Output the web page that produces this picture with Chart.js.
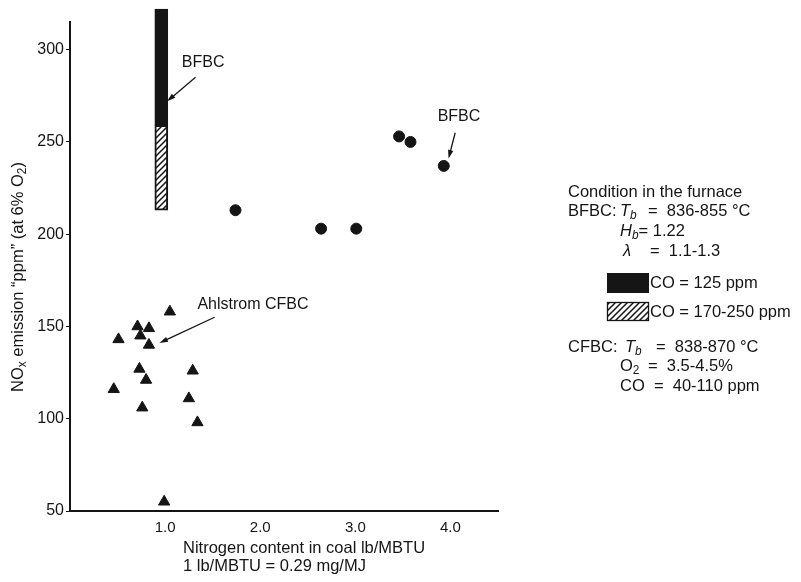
<!DOCTYPE html>
<html>
<head>
<meta charset="utf-8">
<script src="https://cdn.jsdelivr.net/npm/chart.js@4"></script>
<style>
  html, body { margin: 0; padding: 0; background: #fff; }
  #wrap { width: 801px; height: 582px; }
</style>
</head>
<body>
<div id="wrap"><canvas id="chart" width="801" height="582"></canvas></div>
<script>
// BFBC measurements (circles): N content lb/MBTU vs NOx ppm
const bfbcN = [1.74, 2.64, 3.01, 3.46, 3.58, 3.93];
const bfbcNox = [213, 203, 203, 253, 250, 237];

// Ahlstrom CFBC measurements (triangles)
const cfbcN = [1.05, 0.71, 0.83, 0.51, 0.74, 0.83, 0.73, 1.29, 0.80, 0.46, 1.25, 0.76, 1.34, 0.99];
const cfbcNox = [158, 150, 149, 143, 145, 140, 127, 126, 121, 116, 111, 106, 98, 55];

// BFBC range bar: black part CO = 125 ppm, hatched part CO = 170-250 ppm
const barN = 0.96;
const barBlack = [259, 322];
const barHatched = [213, 259];

const xTicks = [1, 2, 3, 4];
const yTicks = [50, 100, 150, 200, 250, 300];

const FONT = '"Liberation Sans", Arial, sans-serif';
const INK = '#151515';

const canvas = document.getElementById('chart');
const ctx = canvas.getContext('2d');

// diagonal hatch used for the CO 170-250 ppm bar
function makeHatch() {
  const c = document.createElement('canvas');
  c.width = 6;
  c.height = 6;
  const g = c.getContext('2d');
  g.fillStyle = '#fff';
  g.fillRect(0, 0, 6, 6);
  g.strokeStyle = INK;
  g.lineWidth = 1.5;
  g.beginPath();
  g.moveTo(-1, 7); g.lineTo(7, -1);
  g.moveTo(-4, 4); g.lineTo(4, -4);
  g.moveTo(2, 10); g.lineTo(10, 2);
  g.stroke();
  return ctx.createPattern(c, 'repeat');
}
const hatch = makeHatch();

// annotations in data coordinates
const notes = [
  { text: 'BFBC', x: 1.40, y: 293, align: 'center', from: [1.32, 285], to: [1.02, 272] },
  { text: 'BFBC', x: 4.09, y: 264, align: 'center', from: [4.05, 255], to: [3.98, 241] },
  { text: 'Ahlstrom CFBC', x: 1.34, y: 162, align: 'left', from: [1.52, 155], to: [0.94, 141] },
];

function arrow(c, x1, y1, x2, y2) {
  const a = Math.atan2(y2 - y1, x2 - x1);
  c.beginPath();
  c.moveTo(x1, y1);
  c.lineTo(x2 - 5 * Math.cos(a), y2 - 5 * Math.sin(a));
  c.stroke();
  c.beginPath();
  c.moveTo(x2, y2);
  c.lineTo(x2 - 9 * Math.cos(a - 0.3), y2 - 9 * Math.sin(a - 0.3));
  c.lineTo(x2 - 9 * Math.cos(a + 0.3), y2 - 9 * Math.sin(a + 0.3));
  c.closePath();
  c.fill();
}

// draws a run of text pieces; piece = [text, italic, sub]
function runText(c, pieces, x, y, size) {
  let cx = x;
  pieces.forEach(([t, italic, sub]) => {
    const s = sub ? size * 0.72 : size;
    c.font = (italic ? 'italic ' : '') + s + 'px ' + FONT;
    c.fillText(t, cx, sub ? y + size * 0.3 : y);
    cx += c.measureText(t).width;
  });
  return cx;
}

function runWidth(c, pieces, size) {
  let w = 0;
  pieces.forEach(([t, italic, sub]) => {
    const s = sub ? size * 0.72 : size;
    c.font = (italic ? 'italic ' : '') + s + 'px ' + FONT;
    w += c.measureText(t).width;
  });
  return w;
}

const decorPlugin = {
  id: 'decor',
  afterDraw(chart) {
    const c = chart.ctx;
    const xs = chart.scales.x;
    const ys = chart.scales.y;
    c.save();
    c.fillStyle = INK;
    c.strokeStyle = INK;
    c.lineWidth = 1.3;
    c.textBaseline = 'middle';

    // annotations with arrows
    notes.forEach((n) => {
      c.font = '16px ' + FONT;
      c.textAlign = n.align;
      c.fillText(n.text, xs.getPixelForValue(n.x), ys.getPixelForValue(n.y));
      arrow(c,
        xs.getPixelForValue(n.from[0]), ys.getPixelForValue(n.from[1]),
        xs.getPixelForValue(n.to[0]), ys.getPixelForValue(n.to[1]));
    });

    // y axis title (rotated)
    const yTitle = [
      ['NO', false, false], ['x', false, true],
      [' emission \u201Cppm\u201D (at 6% O', false, false], ['2', false, true], [')', false, false],
    ];
    c.save();
    c.translate(18, 277);
    c.rotate(-Math.PI / 2);
    c.textAlign = 'left';
    runText(c, yTitle, -runWidth(c, yTitle, 16.5) / 2, 0, 16.5);
    c.restore();

    // x axis title, two left-aligned lines
    c.textAlign = 'left';
    c.font = '16.5px ' + FONT;
    c.fillText('Nitrogen content in coal lb/MBTU', 183, 548);
    c.fillText('1 lb/MBTU = 0.29 mg/MJ', 183, 566);

    // condition box on the right
    const L = 568, M = 620, sz = 16.5;
    c.font = sz + 'px ' + FONT;
    c.fillText('Condition in the furnace', L, 192);
    c.fillText('BFBC:', L, 211);
    runText(c, [['T', true, false], ['b', true, true]], M, 211, sz);
    runText(c, [['=  836-855 \u00B0C', false, false]], 648, 211, sz);
    runText(c, [['H', true, false], ['b', true, true], ['= 1.22', false, false]], M, 231, sz);
    runText(c, [['\u03BB', true, false]], 623, 251, sz);
    runText(c, [['=  1.1-1.3', false, false]], 650, 251, sz);

    c.fillRect(607, 273, 42, 20);
    c.fillText('CO = 125 ppm', 650, 283);
    c.fillStyle = hatch;
    c.fillRect(607, 302, 42, 19);
    c.lineWidth = 1.3;
    c.strokeRect(607.5, 302.5, 41, 18);
    c.fillStyle = INK;
    c.fillText('CO = 170-250 ppm', 650, 312);

    c.fillText('CFBC:', L, 347);
    runText(c, [['T', true, false], ['b', true, true]], 625, 347, sz);
    runText(c, [['=  838-870 \u00B0C', false, false]], 656, 347, sz);
    runText(c, [['O', false, false], ['2', false, true]], M, 366, sz);
    runText(c, [['=  3.5-4.5%', false, false]], 648, 366, sz);
    runText(c, [['CO  =  40-110 ppm', false, false]], M, 386, sz);
    c.restore();
  },
};

new Chart(canvas, {
  type: 'scatter',
  data: {
    datasets: [
      {
        type: 'bar',
        label: 'BFBC CO = 125 ppm',
        data: [{ x: barN, y: barBlack }],
        backgroundColor: INK,
        borderColor: INK,
        borderWidth: 1,
        borderSkipped: false,
        barThickness: 13,
        grouped: false,
        clip: false,
      },
      {
        type: 'bar',
        label: 'BFBC CO = 170-250 ppm',
        data: [{ x: barN, y: barHatched }],
        backgroundColor: hatch,
        borderColor: INK,
        borderWidth: 2,
        borderSkipped: false,
        barThickness: 13,
        grouped: false,
        clip: false,
      },
      {
        label: 'BFBC',
        data: bfbcN.map((v, i) => ({ x: v, y: bfbcNox[i] })),
        pointStyle: 'circle',
        pointRadius: 5.5,
        backgroundColor: INK,
        borderColor: INK,
      },
      {
        label: 'Ahlstrom CFBC',
        data: cfbcN.map((v, i) => ({ x: v, y: cfbcNox[i] })),
        pointStyle: 'triangle',
        pointRadius: 6.5,
        backgroundColor: INK,
        borderColor: INK,
      },
    ],
  },
  options: {
    responsive: false,
    animation: false,
    layout: { padding: { left: 0, right: 303, top: 22, bottom: 0 } },
    plugins: {
      legend: { display: false },
      tooltip: { enabled: false },
    },
    scales: {
      x: {
        type: 'linear',
        offset: false,
        min: 0,
        max: 4.5,
        afterBuildTicks: (s) => { s.ticks = xTicks.map((v) => ({ value: v })); },
        afterFit: (s) => { s.height = 71; },
        border: { color: INK, width: 2 },
        grid: { offset: false, drawOnChartArea: false, drawTicks: false },
        ticks: {
          color: INK,
          font: { family: FONT, size: 15 },
          padding: 8,
          callback: (v) => v.toFixed(1),
        },
      },
      y: {
        type: 'linear',
        min: 50,
        max: 315,
        afterBuildTicks: (s) => { s.ticks = yTicks.map((v) => ({ value: v })); },
        afterFit: (s) => { s.width = 70; },
        border: { color: INK, width: 2 },
        grid: { drawOnChartArea: false, drawTicks: true, tickLength: 4, tickColor: INK },
        ticks: {
          color: INK,
          font: { family: FONT, size: 16 },
          padding: 2,
        },
      },
    },
  },
  plugins: [decorPlugin],
});
</script>
</body>
</html>
